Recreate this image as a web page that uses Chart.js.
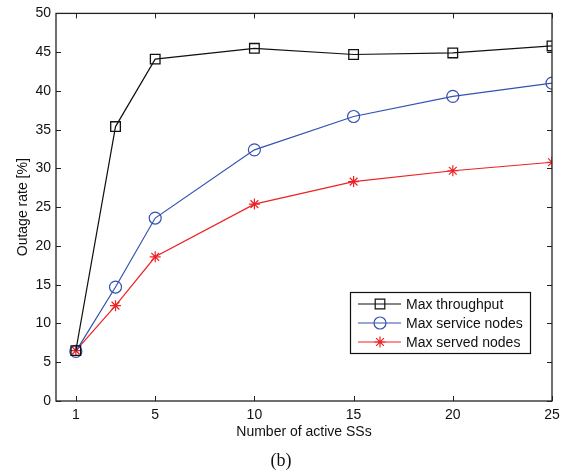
<!DOCTYPE html>
<html>
<head>
<meta charset="utf-8">
<script src="https://cdn.jsdelivr.net/npm/chart.js@4"></script>
<style>
  html, body { margin: 0; padding: 0; background: #fff; }
  #wrap { position: relative; width: 576px; height: 473px; }
</style>
</head>
<body>
<div id="wrap"><canvas id="outage" width="576" height="473"></canvas></div>
<script>
const activeSSs = [1, 3, 5, 10, 15, 20, 25];
const maxThroughput = [6.5, 35.4, 44.1, 45.5, 44.7, 44.9, 45.8];
const maxServiceNodes = [6.4, 14.7, 23.6, 32.4, 36.7, 39.3, 41.0];
const maxServedNodes = [6.5, 12.3, 18.6, 25.4, 28.3, 29.7, 30.8];
const xTicks = [1, 5, 10, 15, 20, 25];
const yTicks = [0, 5, 10, 15, 20, 25, 30, 35, 40, 45, 50];

const FONT = "'Liberation Sans', Arial, sans-serif";

function pts(ys) {
	return activeSSs.map((x, i) => ({ x: x, y: ys[i] }));
}

// inward tick marks on all four sides + legend box inside the plot
const matlabAxes = {
	id: "matlabAxes",
	afterDraw(chart) {
		const ctx = chart.ctx;
		const a = chart.chartArea;
		const xs = chart.scales.x;
		const ys = chart.scales.y;
		const len = 5;
		ctx.save();
		ctx.strokeStyle = "#222";
		ctx.lineWidth = 1;
		ctx.beginPath();
		xTicks.forEach((t) => {
			const px = Math.round(xs.getPixelForValue(t)) + 0.5;
			ctx.moveTo(px, a.bottom); ctx.lineTo(px, a.bottom - len);
			ctx.moveTo(px, a.top); ctx.lineTo(px, a.top + len);
		});
		yTicks.forEach((t) => {
			const py = Math.round(ys.getPixelForValue(t)) + 0.5;
			ctx.moveTo(a.left, py); ctx.lineTo(a.left + len, py);
			ctx.moveTo(a.right, py); ctx.lineTo(a.right - len, py);
		});
		ctx.stroke();
		ctx.lineWidth = 1.3;
		ctx.strokeRect(a.left, a.top, a.right - a.left, a.bottom - a.top);

		// legend
		const lx = 350, ly = 292, lw = 180, lh = 61;
		ctx.fillStyle = "#fff";
		ctx.fillRect(lx, ly, lw, lh);
		ctx.lineWidth = 1.2;
		ctx.strokeStyle = "#111";
		ctx.strokeRect(lx + 0.5, ly + 0.5, lw, lh);
		ctx.font = "14px " + FONT;
		ctx.textBaseline = "middle";
		chart.data.datasets.forEach((ds, i) => {
			const y = ly + 12 + i * 19;
			ctx.strokeStyle = ds.borderColor;
			ctx.lineWidth = 1.2;
			ctx.beginPath();
			ctx.moveTo(358, y); ctx.lineTo(401, y);
			ctx.stroke();
			ctx.fillStyle = "rgba(0,0,0,0)";
			Chart.helpers.drawPoint(ctx, {
				pointStyle: ds.pointStyle,
				radius: ds.pointRadius,
				borderWidth: 1.2,
			}, 380, y);
			ctx.fillStyle = "#111";
			ctx.fillText(ds.label, 406, y + 1);
		});
		ctx.restore();
	},
};

const outageElem = document.getElementById("outage");

const outageChart = new Chart(outageElem, {
	type: "scatter",
	data: {
		datasets: [
			{
				label: "Max throughput",
				data: pts(maxThroughput),
				showLine: true,
				borderColor: "#111",
				backgroundColor: "transparent",
				borderWidth: 1.2,
				pointStyle: "rect",
				pointRadius: 6.8,
				pointBorderWidth: 1.3,
				pointBorderColor: "#111",
			},
			{
				label: "Max service nodes",
				data: pts(maxServiceNodes),
				showLine: true,
				borderColor: "#3451b2",
				backgroundColor: "transparent",
				borderWidth: 1.2,
				pointStyle: "circle",
				pointRadius: 6,
				pointBorderWidth: 1.2,
				pointBorderColor: "#3451b2",
			},
			{
				label: "Max served nodes",
				data: pts(maxServedNodes),
				showLine: true,
				borderColor: "#ee2222",
				backgroundColor: "transparent",
				borderWidth: 1.2,
				pointStyle: "star",
				pointRadius: 5.5,
				pointBorderWidth: 1.2,
				pointBorderColor: "#ee2222",
			},
		],
	},
	options: {
		responsive: false,
		animation: false,
		events: [],
		layout: { padding: { top: 10, right: 24, left: 15, bottom: 32 } },
		plugins: {
			legend: false,
			tooltip: { enabled: false },
		},
		scales: {
			x: {
				type: "linear",
				min: 0,
				max: 25,
				afterBuildTicks: (s) => { s.ticks = xTicks.map((v) => ({ value: v })); },
				afterFit: (s) => { s.height = 40; },
				grid: { display: false, drawTicks: false },
				border: { display: false },
				ticks: {
					color: "#111",
					font: { family: FONT, size: 14 },
					padding: 6,
					maxRotation: 0,
				},
				title: {
					display: true,
					text: "Number of active SSs",
					color: "#111",
					font: { family: FONT, size: 14 },
					padding: { top: 0, bottom: 0 },
				},
			},
			y: {
				type: "linear",
				min: 0,
				max: 50,
				afterBuildTicks: (s) => { s.ticks = yTicks.map((v) => ({ value: v })); },
				afterFit: (s) => { s.width = 41; },
				grid: { display: false, drawTicks: false },
				border: { display: false },
				ticks: {
					color: "#111",
					font: { family: FONT, size: 14 },
					padding: 5,
				},
				title: {
					display: true,
					text: "Outage rate [%]",
					color: "#111",
					font: { family: FONT, size: 14 },
					padding: { top: 0, bottom: 0 },
				},
			},
		},
	},
	plugins: [
		matlabAxes,
		{
			id: "caption",
			afterDraw(chart) {
				const ctx = chart.ctx;
				ctx.save();
				ctx.font = "18px 'Liberation Serif', 'Times New Roman', serif";
				ctx.fillStyle = "#111";
				ctx.textAlign = "center";
				ctx.textBaseline = "middle";
				ctx.fillText("(b)", 281, 461);
				ctx.restore();
			},
		},
	],
});
</script>
</body>
</html>
